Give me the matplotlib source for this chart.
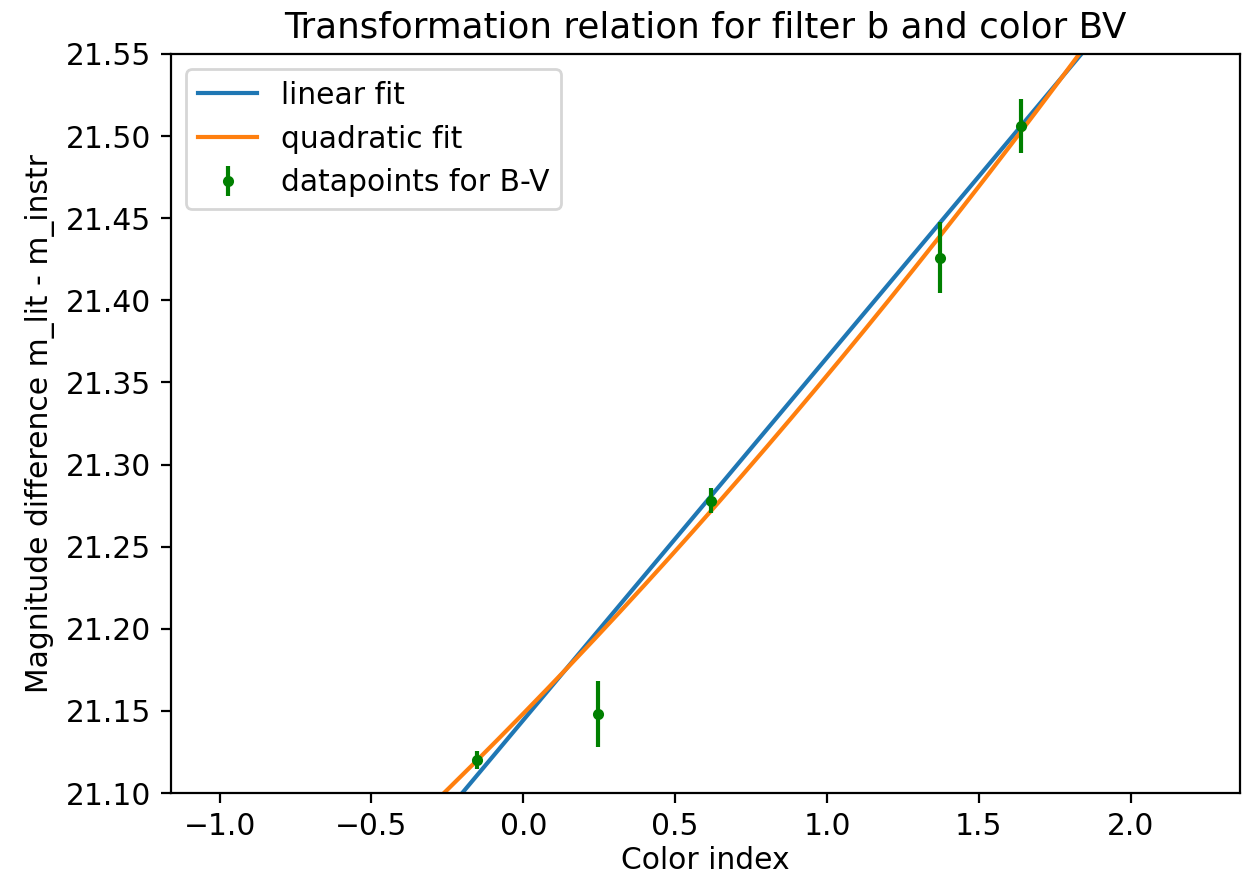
import matplotlib
matplotlib.use('Agg')
import matplotlib.pyplot as plt
import numpy as np

plt.rcParams['font.size'] = 10.7

# datapoints
color_bv = [-0.151, 0.246, 0.619, 1.371, 1.640]
mag_diff = [21.120, 21.148, 21.278, 21.426, 21.506]
mag_err = [0.0055, 0.020, 0.0075, 0.0215, 0.0165]

# fit coefficients (highest power first)
lin_coef = [0.2207, 21.1444]
quad_coef = [0.0163, 0.1895, 21.1484]

x_fit = np.linspace(-1.0, 2.2, 200)

fig = plt.figure(figsize=(6.265, 4.38), dpi=200)
ax = fig.add_axes([0.1365, 0.0947, 0.8531, 0.8437])
ax.plot(x_fit, np.polyval(lin_coef, x_fit), label='linear fit')
ax.plot(x_fit, np.polyval(quad_coef, x_fit), label='quadratic fit')
ax.errorbar(color_bv, mag_diff, yerr=mag_err, fmt='.', color='green',
            label='datapoints for B-V')
ax.set_ylim(21.10, 21.55)
ax.set_xlim(-1.16, 2.36)
ax.set_title('Transformation relation for filter b and color BV')
ax.set_xlabel('Color index', labelpad=1.5)
ax.set_ylabel('Magnitude difference m_lit - m_instr')
ax.legend(loc='upper left')
fig.savefig('out.png', dpi=200)
